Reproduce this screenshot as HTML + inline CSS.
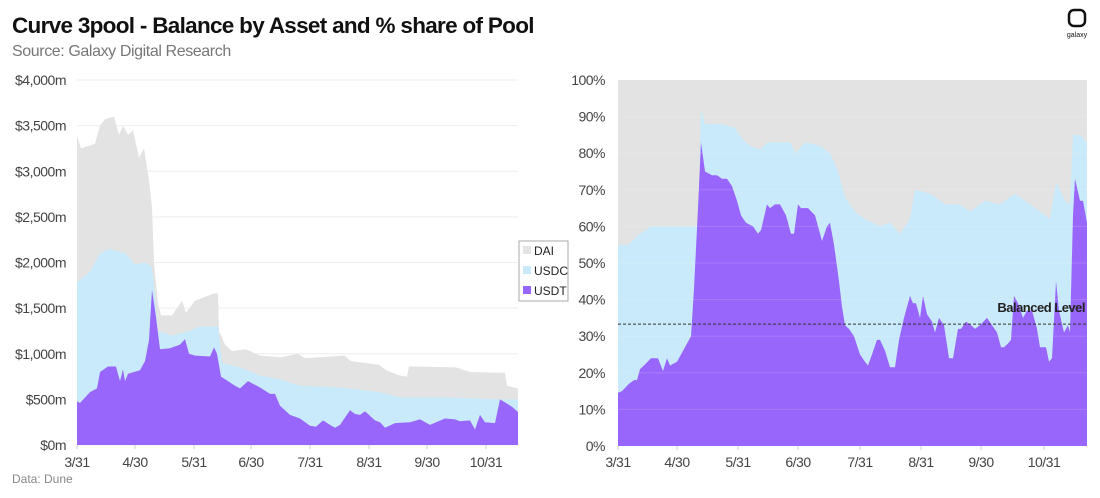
<!DOCTYPE html>
<html><head><meta charset="utf-8"><style>
body{margin:0;width:1100px;height:498px;background:#fff;overflow:hidden;font-family:"Liberation Sans",sans-serif}
svg{position:absolute;left:0;top:0}
</style></head><body>
<svg id="s" width="1100" height="498" xmlns="http://www.w3.org/2000/svg" font-family="Liberation Sans, sans-serif">
<text x="12" y="33" font-size="22.5" font-weight="bold" fill="#111" letter-spacing="-0.7">Curve 3pool - Balance by Asset and % share of Pool</text>
<text x="12" y="56" font-size="16" fill="#777" letter-spacing="-0.4">Source: Galaxy Digital Research</text>
<text x="12" y="483" font-size="12" fill="#888">Data: Dune</text>
<rect x="1069" y="10" width="16" height="16" rx="5" fill="none" stroke="#111" stroke-width="2.5"/>
<text x="1077" y="37" font-size="7" text-anchor="middle" fill="#111">galaxy</text>
<g id="L"></g><g id="R"></g>
<rect x="519" y="241" width="49" height="60" fill="#fff" stroke="#aaa" stroke-width="1"/>
<rect x="523" y="246" width="8" height="8" fill="#e3e3e3"/><text x="534" y="255" font-size="12" fill="#222">DAI</text>
<rect x="523" y="266" width="8" height="8" fill="#c8eafa"/><text x="534" y="275" font-size="12" fill="#222">USDC</text>
<rect x="523" y="286" width="8" height="8" fill="#9966fb"/><text x="534" y="295" font-size="12" fill="#222">USDT</text>
</svg>
<script>
const NS="http://www.w3.org/2000/svg";
function el(g,t,a,txt){const e=document.createElementNS(NS,t);for(const k in a)e.setAttribute(k,a[k]);if(txt!==undefined)e.textContent=txt;g.appendChild(e);return e;}
function area(g,pts,yf,y0,fill){let d="M"+pts[0][0]+","+y0;pts.forEach(p=>d+="L"+p[0]+","+yf(p[1]).toFixed(1));d+="L"+pts[pts.length-1][0]+","+y0+"Z";el(g,"path",{d:d,fill:fill});}
// LEFT
const L=document.getElementById("L");
const ly=v=>445-v*365/4000;
for(let i=0;i<=8;i++){const y=ly(i*500);el(L,"line",{x1:77,x2:518,y1:y,y2:y,stroke:"#eee","stroke-width":1});
el(L,"text",{x:66,y:y+5,"font-size":14,"text-anchor":"end",fill:"#444","letter-spacing":"-0.5"},"$"+(i*500).toLocaleString("en-US")+"m");}
const tot=[[77,3380],[81,3250],[95,3300],[100,3500],[105,3570],[114,3600],[119,3400],[123,3500],[128,3400],[133,3450],[139,3150],[144,3250],[149,2900],[152,2600],[154,2000],[158,1550],[161,1420],[172,1420],[182,1580],[186,1450],[195,1580],[204,1620],[214,1660],[218,1660],[219,1250],[225,1100],[232,1030],[246,1050],[260,980],[281,960],[298,1000],[305,950],[344,980],[351,920],[379,880],[386,820],[400,760],[407,750],[409,860],[456,850],[470,800],[505,790],[507,650],[518,620]];
const usdc=[[77,1780],[90,1900],[100,2100],[110,2150],[125,2100],[135,1980],[145,2000],[152,1950],[155,1650],[158,1250],[172,1200],[190,1250],[200,1300],[218,1300],[222,900],[240,850],[260,760],[280,720],[300,650],[340,630],[380,580],[400,520],[450,520],[505,500],[518,500]];
const usdt=[[77,480],[80,460],[90,580],[97,620],[100,800],[108,860],[116,860],[120,700],[123,830],[125,700],[128,780],[140,820],[145,920],[149,1150],[152,1700],[156,1400],[160,1050],[170,1060],[180,1100],[185,1160],[189,1000],[195,980],[210,970],[214,1070],[217,1000],[221,750],[235,650],[240,620],[248,700],[260,630],[270,560],[275,560],[280,430],[290,330],[300,290],[310,210],[316,200],[323,270],[330,220],[335,190],[340,220],[350,380],[355,340],[360,330],[365,370],[375,270],[380,250],[385,190],[395,240],[410,250],[420,280],[430,220],[445,290],[455,280],[460,260],[470,270],[475,170],[480,330],[485,250],[495,240],[500,500],[512,420],[518,360]];
area(L,tot,ly,445,"#e3e3e3");area(L,usdc,ly,445,"#c8eafa");area(L,usdt,ly,445,"#9966fb");
[[77,"3/31"],[135,"4/30"],[194,"5/31"],[251,"6/30"],[310,"7/31"],[369,"8/31"],[427,"9/30"],[486,"10/31"]].forEach(t=>{el(L,"line",{x1:t[0],x2:t[0],y1:445,y2:449,stroke:"#ccc"});el(L,"text",{x:t[0],y:467,"font-size":14,"text-anchor":"middle",fill:"#444","letter-spacing":"-0.5"},t[1]);});
// RIGHT
const R=document.getElementById("R");
const ry=v=>446-v*3.66;
el(R,"rect",{x:618,y:80,width:469,height:366,fill:"#e3e3e3"});
for(let i=0;i<=10;i++){el(R,"text",{x:605,y:ry(i*10)+5,"font-size":14,"text-anchor":"end",fill:"#444","letter-spacing":"-0.5"},(i*10)+"%");}
const rc=[[618,55],[628,55],[640,58],[651,60],[690,60],[698,60],[701,92],[705,88],[720,88],[735,87],[742,84],[750,82],[760,81],[768,83],[790,83],[796,80],[805,83],[820,82],[830,80],[838,75],[845,68],[855,64],[865,62],[880,60],[890,61],[900,58],[910,62],[915,70],[930,69],[945,66],[960,66],[970,64],[985,67],[1000,66],[1015,69],[1030,66],[1045,63],[1050,62],[1056,72],[1065,67],[1070,66],[1073,85],[1080,85],[1087,83]];
const rt=[[618,14.5],[622,15],[629,17],[634,18],[637,18],[640,21],[644,22],[651,24],[658,24],[663,20.5],[667,24],[670,22],[677,23],[681,25],[687,28],[691,30],[694,43],[698,65],[701,83],[705,75],[712,74],[717,74],[722,73],[727,73],[732,71],[737,67],[741,63],[746,61],[753,60],[758,58],[761,59],[767,66],[770,65],[775,66],[780,66],[786,63],[791,58],[794,58],[798,66],[801,65],[808,65],[815,63],[822,56],[827,60],[830,61],[834,55],[839,45],[842,38],[845,33],[849,32],[854,30],[860,25],[865,23],[868,22],[872,25],[877,29],[880,29],[885,26],[890,21.5],[895,21.5],[899,29],[904,35],[910,41],[913,39],[916,39],[920,35],[923,41],[927,36],[932,34],[935,31],[939,35],[944,33],[949,24],[953,24],[958,32],[961,32],[966,34],[971,33],[975,32],[980,33],[987,35],[992,33],[997,31],[1001,27],[1004,27],[1008,28],[1011,29],[1014,41],[1018,39],[1023,35],[1027,37],[1032,37],[1037,32],[1040,27],[1046,27],[1049,23],[1052,24],[1056,45],[1059,37],[1064,31],[1068,33],[1070,31],[1073,63],[1075,73],[1080,67],[1083,67],[1087,61]];
area(R,rc,ry,446,"#c8eafa");area(R,rt,ry,446,"#9966fb");
for(let i=1;i<10;i++){const y=ry(i*10);el(R,"line",{x1:618,x2:1087,y1:y,y2:y,stroke:"#fff","stroke-opacity":0.15});}
el(R,"line",{x1:618,x2:1087,y1:ry(33.3),y2:ry(33.3),stroke:"#333","stroke-dasharray":"3,2","stroke-width":1});
el(R,"text",{x:1085,y:312,"font-size":13,"text-anchor":"end",fill:"#222","font-weight":"bold","letter-spacing":"-0.5"},"Balanced Level");
[[618,"3/31"],[677,"4/30"],[738,"5/31"],[798,"6/30"],[860,"7/31"],[921,"8/31"],[981,"9/30"],[1044,"10/31"]].forEach(t=>{el(R,"line",{x1:t[0],x2:t[0],y1:446,y2:450,stroke:"#ccc"});el(R,"text",{x:t[0],y:467,"font-size":14,"text-anchor":"middle",fill:"#444","letter-spacing":"-0.5"},t[1]);});
</script>
</body></html>
